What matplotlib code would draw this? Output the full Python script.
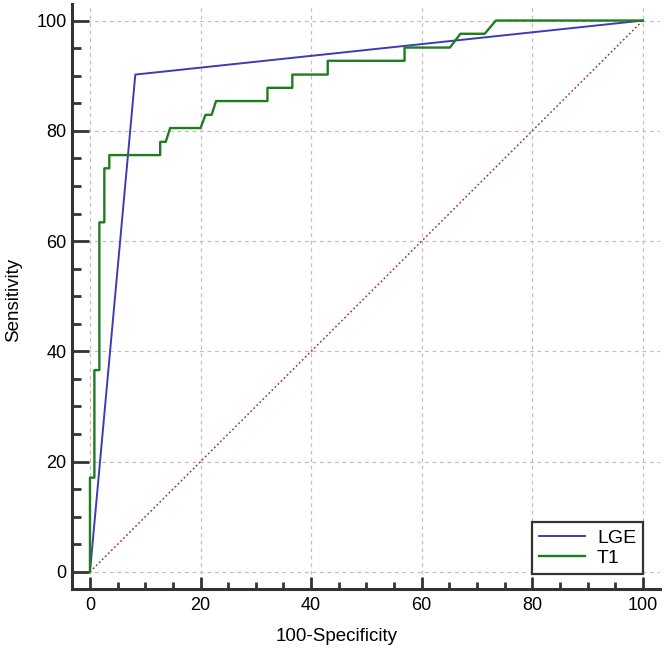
import matplotlib
matplotlib.use("Agg")
import matplotlib.pyplot as plt
import numpy as np

plt.rcParams['font.family'] = ['Liberation Sans', 'DejaVu Sans']

# ROC curves (x = 100-Specificity, y = Sensitivity)
lge_x = [0, 8.2, 100]
lge_y = [0, 90.2, 100]

t1_x = [0, 0, 0.8, 0.8, 1.7, 1.7, 2.6, 2.6, 3.5, 3.5, 12.7, 12.7, 13.7, 14.5,
        20.0, 20.9, 22.0, 22.8, 32.1, 32.1, 36.6, 36.6, 43.0, 43.0, 56.9,
        56.9, 65.1, 67.0, 71.4, 73.4, 100]
t1_y = [0, 17.1, 17.1, 36.6, 36.6, 63.4, 63.4, 73.2, 73.2, 75.6, 75.6, 78.0,
        78.0, 80.5, 80.5, 82.9, 82.9, 85.4, 85.4, 87.8, 87.8, 90.2, 90.2,
        92.7, 92.7, 95.1, 95.1, 97.6, 97.6, 100, 100]

ref_x = [0, 100]
ref_y = [0, 100]

ticks = [0, 20, 40, 60, 80, 100]

fig = plt.figure(figsize=(6.66, 6.49), dpi=100)
ax = fig.add_axes([72 / 666, 60 / 649, 588 / 666, 585 / 649])

ax.plot(ref_x, ref_y, color='#a83838', lw=1.1, ls=(0, (1.2, 1.6)), zorder=2)
ax.plot(lge_x, lge_y, color='#3c3cb4', lw=1.4, label='LGE', zorder=3)
ax.plot(t1_x, t1_y, color='#1e7d1e', lw=1.7, label='T1', zorder=4)

ax.set_xlim(-3.25, 103.1)
ax.set_ylim(-3.1, 103.0)
ax.set_xticks(ticks)
ax.set_yticks(ticks)
ax.set_xticks(np.arange(0, 101, 5), minor=True)
ax.set_yticks(np.arange(0, 101, 5), minor=True)

ax.grid(True, which='major', color='#c0c0c0', ls=(0, (3, 3)), lw=0.9)
ax.set_axisbelow(True)

for s in ['top', 'right']:
    ax.spines[s].set_visible(False)
for s in ['left', 'bottom']:
    ax.spines[s].set_linewidth(2.2)
    ax.spines[s].set_color('#333333')

ax.tick_params(axis='y', which='major', direction='in', length=12, width=2,
               color='#333333', labelsize=13, pad=4)
ax.tick_params(axis='y', which='minor', direction='in', length=6.5, width=2,
               color='#333333')
ax.tick_params(axis='x', which='major', direction='in', length=9, width=2,
               color='#333333', labelsize=13, pad=6)
ax.tick_params(axis='x', which='minor', direction='in', length=5, width=2,
               color='#333333')

ax.set_xlabel('100-Specificity', fontsize=13.5)
ax.xaxis.set_label_coords(0.45, -0.066)
ax.set_ylabel('Sensitivity', fontsize=13.5)
ax.yaxis.set_label_coords(-0.085, 0.494)

leg = ax.legend(loc='lower right', bbox_to_anchor=(643 / 666, 75 / 649),
                bbox_transform=fig.transFigure, fontsize=14, frameon=True,
                fancybox=False, borderpad=0.35, handlelength=2.4,
                handletextpad=0.6, labelspacing=0.15, borderaxespad=0)
leg.get_frame().set_edgecolor('#333333')
leg.get_frame().set_linewidth(1.6)
leg.get_frame().set_alpha(1)

fig.savefig('out.png', dpi=100)
